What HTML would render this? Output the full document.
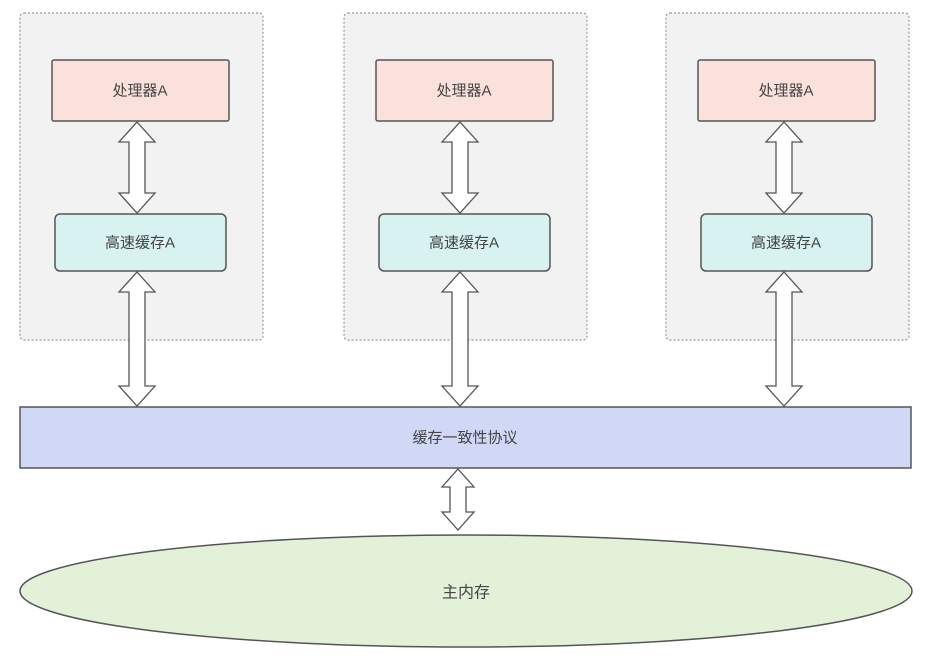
<!DOCTYPE html>
<html><head><meta charset="utf-8"><style>
html,body{margin:0;padding:0;background:#fff;}
svg{display:block;}
text{font-family:"Liberation Sans","Noto Sans CJK SC",sans-serif;font-size:15px;fill:#444;text-anchor:middle;dominant-baseline:central;}
</style></head><body>
<svg width="936" height="661" viewBox="0 0 936 661" xmlns="http://www.w3.org/2000/svg">
<defs>
<g id="col">
  <rect x="0" y="0" width="243" height="327" rx="4" fill="#f2f2f2" stroke="#999" stroke-width="1.2" stroke-dasharray="2,2"/>
  <rect x="32" y="47" width="177" height="61" fill="#fbe1dc" stroke="#555" stroke-width="1.5" rx="2"/>
  <text x="120" y="78">处理器A</text>
  <rect x="35" y="201" width="171" height="57" fill="#d8f1f1" stroke="#555" stroke-width="1.5" rx="5"/>
  <text x="120" y="230">高速缓存A</text>
</g>
</defs>
<use href="#col" x="20" y="13"/>
<use href="#col" x="344" y="13"/>
<use href="#col" x="666" y="13"/>
<!-- arrows -->
<g fill="#fff" stroke="#555" stroke-width="1.3" stroke-linejoin="miter">
  <!-- col1 -->
  <path d="M137 122 L155 142 L145 142 L145 193 L155 193 L137 213 L119 193 L129 193 L129 142 L119 142 Z"/>
  <path d="M137 272 L155 292 L145 292 L145 386 L155 386 L137 406 L119 386 L129 386 L129 292 L119 292 Z"/>
  <!-- col2 -->
  <path d="M460 122 L478 142 L468 142 L468 193 L478 193 L460 213 L442 193 L452 193 L452 142 L442 142 Z"/>
  <path d="M460 272 L478 292 L468 292 L468 386 L478 386 L460 406 L442 386 L452 386 L452 292 L442 292 Z"/>
  <!-- col3 -->
  <path d="M784 122 L802 142 L792 142 L792 193 L802 193 L784 213 L766 193 L776 193 L776 142 L766 142 Z"/>
  <path d="M784 272 L802 292 L792 292 L792 386 L802 386 L784 406 L766 386 L776 386 L776 292 L766 292 Z"/>
</g>
<rect x="20" y="407" width="891" height="61" fill="#d0d8f6" stroke="#555" stroke-width="1.5"/>
<text x="465" y="438">缓存一致性协议</text>
<path d="M458 469 L474 487 L466 487 L466 512 L474 512 L458 530 L442 512 L450 512 L450 487 L442 487 Z" fill="#fff" stroke="#555" stroke-width="1.3"/>
<ellipse cx="466" cy="591" rx="446" ry="56" fill="#e2f1d8" stroke="#555" stroke-width="1.5"/>
<text x="466" y="593" style="font-size:16px">主内存</text>
</svg>
</body></html>
